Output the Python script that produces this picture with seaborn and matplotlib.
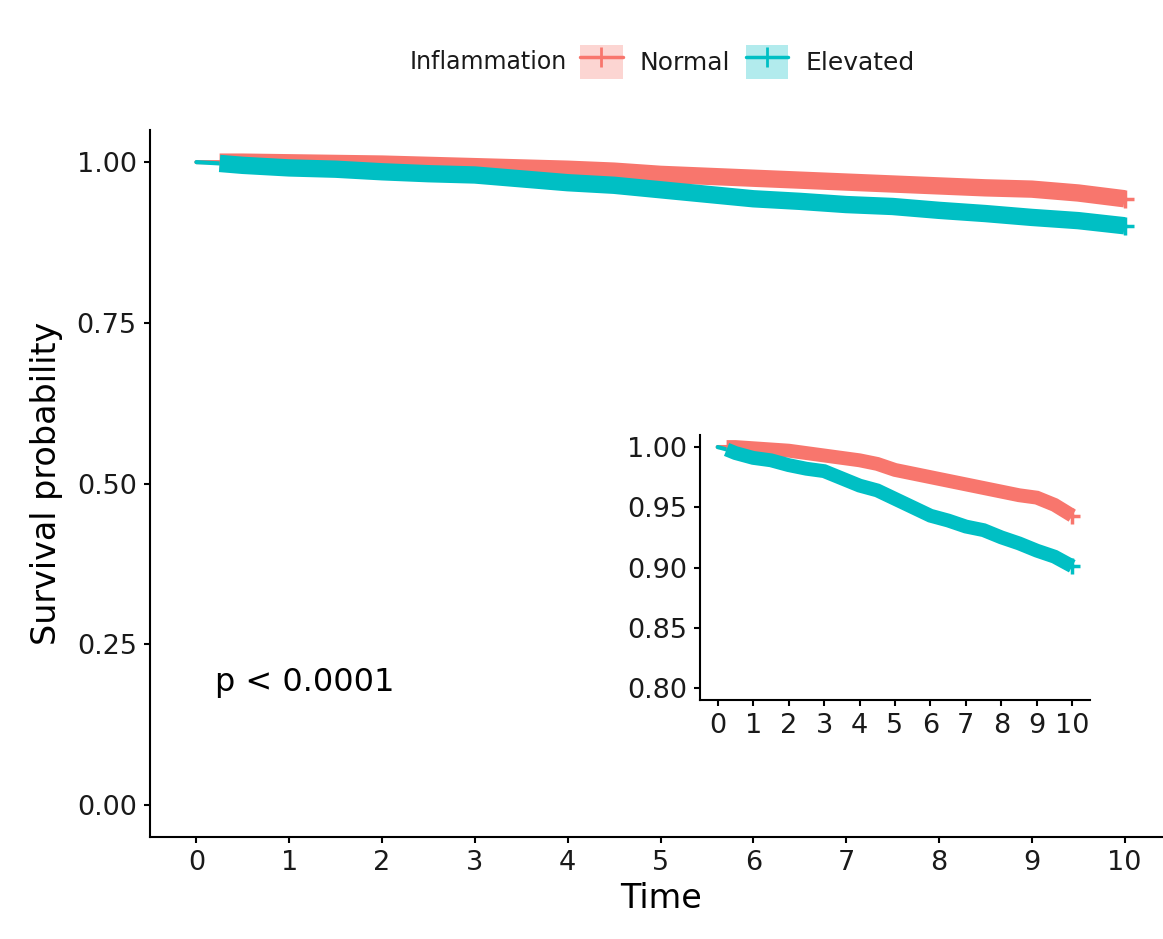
import numpy as np
import pandas as pd
import matplotlib
matplotlib.use("Agg")
import matplotlib.pyplot as plt
from matplotlib.lines import Line2D
from matplotlib.patches import Patch
import seaborn as sns

# Kaplan-Meier survival estimates by inflammation group
time = [0.0, 0.25, 0.5, 1.0, 1.5, 2.0, 2.5, 3.0, 3.5, 4.0, 4.5, 5.0,
        5.5, 6.0, 6.5, 7.0, 7.5, 8.0, 8.5, 9.0, 9.5, 10.0]
surv_normal = [1.000, 1.000, 1.000, 0.999, 0.998, 0.997, 0.995, 0.993, 0.991, 0.989, 0.986, 0.981,
               0.978, 0.975, 0.972, 0.969, 0.966, 0.963, 0.960, 0.958, 0.952, 0.943]
surv_elevated = [1.000, 0.998, 0.995, 0.991, 0.989, 0.985, 0.982, 0.980, 0.974, 0.968, 0.964, 0.957,
                 0.950, 0.943, 0.939, 0.934, 0.931, 0.925, 0.920, 0.914, 0.909, 0.901]
groups = ["Normal", "Elevated"]
colors = ["#F8766D", "#00BFC4"]
legend_title = "Inflammation"
pval_text = "p < 0.0001"
first_censor = 0.25

main_xticks = list(range(0, 11))
main_yticks = [0.00, 0.25, 0.50, 0.75, 1.00]
inset_yticks = [0.80, 0.85, 0.90, 0.95, 1.00]

df = pd.DataFrame({
    "Time": time * 2,
    "Survival": surv_normal + surv_elevated,
    "Inflammation": [groups[0]] * len(time) + [groups[1]] * len(time),
})
df_band = df[df["Time"] >= first_censor]
palette = dict(zip(groups, colors))

sns.set_theme(style="ticks")
plt.rcParams["font.family"] = ["DejaVu Sans"]

W, H = 1163, 939
fig = plt.figure(figsize=(W / 100, H / 100), dpi=100)


def px_axes(left, right, top, bottom):
    return fig.add_axes([left / W, (H - bottom) / H, (right - left) / W, (bottom - top) / H])


def style_axes(ax, xticks, yticks, yfmt, fs):
    for side in ["top", "right"]:
        ax.spines[side].set_visible(False)
    for side in ["left", "bottom"]:
        ax.spines[side].set_linewidth(1.5)
        ax.spines[side].set_color("black")
    ax.set_xticks(xticks)
    ax.set_yticks(yticks)
    ax.set_yticklabels([yfmt.format(v) for v in yticks])
    ax.tick_params(axis="both", which="major", length=4.5, width=1.5, color="black",
                   labelsize=fs, labelcolor="#1a1a1a", pad=5)
    ax.set_facecolor("white")


def draw_curves(ax, thin_lw, band_lw, ms):
    # survival line from time zero, then the dense censoring band
    sns.lineplot(data=df, x="Time", y="Survival", hue="Inflammation", hue_order=groups,
                 palette=palette, linewidth=thin_lw,
                 legend=False, ax=ax, errorbar=None)
    sns.lineplot(data=df_band, x="Time", y="Survival", hue="Inflammation", hue_order=groups,
                 palette=palette, linewidth=band_lw, solid_capstyle="butt",
                 solid_joinstyle="miter", legend=False, ax=ax, errorbar=None)
    last = df.groupby("Inflammation").tail(1)
    for g in groups:
        row = last[last["Inflammation"] == g]
        ax.plot(row["Time"], row["Survival"], marker="+", color=palette[g],
                markersize=ms, markeredgewidth=2.5, linestyle="none")


# main panel
ax = px_axes(150, 1171, 130, 837)
draw_curves(ax, 3.0, 12.5, 13)
ax.set_xlim(-0.5, 10.5)
ax.set_ylim(-0.05, 1.05)
style_axes(ax, main_xticks, main_yticks, "{:.2f}", 19.5)
ax.set_xlabel("Time", fontsize=24, labelpad=4, color="black")
ax.set_ylabel("Survival probability", fontsize=24, labelpad=10, color="black")
ax.text(0.2, 0.19, pval_text, fontsize=23, ha="left", va="center", color="black")

# zoomed inset
axi = px_axes(700, 1090, 435, 700)
draw_curves(axi, 3.0, 10.0, 11)
axi.set_xlim(-0.5, 10.5)
axi.set_ylim(0.79, 1.01)
style_axes(axi, main_xticks, inset_yticks, "{:.2f}", 19.5)
axi.set_xlabel("")
axi.set_ylabel("")
axi.patch.set_alpha(0.0)

# legend with title on the left
fig.text(410 / W, 1 - 62 / H, legend_title, fontsize=17, ha="left", va="center", color="#1a1a1a")
handles = [(Patch(facecolor=c, alpha=0.3, edgecolor="none"),
            Line2D([0], [0], color=c, lw=2.5, marker="+", markersize=14, markeredgewidth=2))
           for c in colors]
fig.legend(handles, groups, ncol=2, loc="center left",
           bbox_to_anchor=(580 / W, 1 - 62 / H), frameon=False, fontsize=18,
           handlelength=1.7, handleheight=1.75, handletextpad=0.7, columnspacing=0.6,
           borderpad=0, borderaxespad=0, labelcolor="#1a1a1a")

fig.savefig("out.png", dpi=100)
